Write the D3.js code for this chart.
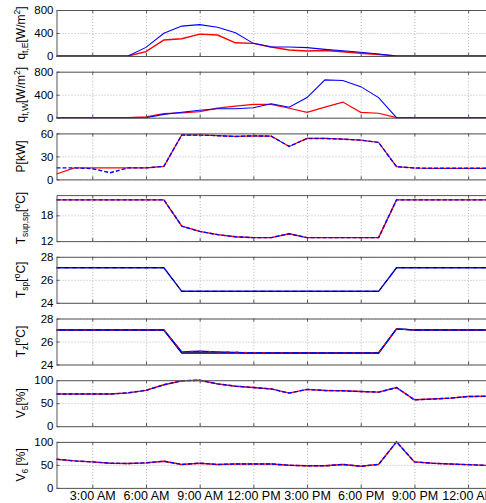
<!DOCTYPE html>
<html>
<head>
<meta charset="utf-8">
<script src="https://cdn.jsdelivr.net/npm/d3@7"></script>
<style>
  body { margin: 0; background: #fff; }
  svg { display: block; font-family: "Liberation Sans", Arial, sans-serif; }
  .grid line { stroke: #b4b4b4; stroke-dasharray: 1,2; }
  .grid path { display: none; }
  .frame path, .frame line { stroke: #555; }
</style>
</head>
<body>
<script>
// hour of day, 1 = 1:00 AM ... 25 = 1:00 AM next day
var hours = [1,2,3,4,5,6,7,8,9,10,11,12,13,14,15,16,17,18,19,20,21,22,23,24,25];
var xTickHours = [3,6,9,12,15,18,21,24];
var xTickLabels = ["3:00 AM","6:00 AM","9:00 AM","12:00 PM","3:00 PM","6:00 PM","9:00 PM","12:00 AM"];

var qE_red  = [0,0,0,0,0,75,278,300,380,365,230,220,157,105,87,95,75,47,25,0,0,0,0,0,0];
var qE_blue = [0,0,0,0,0,150,395,520,545,500,405,220,157,157,145,116,92,64,35,0,0,0,0,0,0];

var qW_red  = [0,0,0,0,0,15,70,85,107,165,200,231,231,165,94,183,272,94,77,0,0,0,0,0,0];
var qW_blue = [0,0,0,0,0,0,58,95,130,155,155,172,243,183,350,658,646,540,350,0,0,0,0,0,0];

var P_red  = [7,15,15,15,15,15,17,58,58,57,56,56.8,56.4,43,53.4,53.4,52.5,51.2,48.2,16.6,14.9,14.5,14.5,14.5,14.5];
var P_blue = [15,15,14,8.7,15,15,17,58,58,57,56,56.8,56.4,43,53.4,53.4,52.5,51.2,48.2,16.6,14.9,14.5,14.5,14.5,14.5];

var Tsup_red  = [21.6,21.6,21.6,21.6,21.6,21.6,21.6,15.5,14.25,13.5,13,12.8,12.8,13.7,12.8,12.8,12.8,12.8,12.8,21.6,21.6,21.6,21.6,21.6,21.6];
var Tsup_blue = [21.6,21.6,21.6,21.6,21.6,21.6,21.6,15.5,14.25,13.5,13,12.8,12.8,13.7,12.8,12.8,12.8,12.8,12.8,21.6,21.6,21.6,21.6,21.6,21.6];

var Tsp_blue  = [27.05,27.05,27.05,27.05,27.05,27.05,27.05,25,25,25,25,25,25,25,25,25,25,25,25,27.05,27.05,27.05,27.05,27.05,27.05];
var Tsp_black = [27.05,27.05,27.05,27.05,27.05,27.05,27.05,25,25,25,25,25,25,25,25,25,25,25,25,27.05,27.05,27.05,27.05,27.05,27.05];

var Tz_blue  = [27,27,27,27,27,27,27,25.1,25.15,25.1,25.05,25,25,25,25,25,25,25,25,27.1,27,27,27,27,27];
var Tz_red   = [27,27,27,27,27,27,27,25.12,25.15,25.1,25.08,25.02,25,25,25,25,25,25,25,27.1,27,27,27,27,27];
var Tz_black = [27,27,27,27,27,27,27,25,25,25,25,25,25,25,25,25,25,25,25,27.1,27,27,27,27,27];

var V5_red  = [70,70,70,70,72.5,78,90,98.6,100,92,87,84,81,72,80,77.6,77,75.4,74,84,57.4,59,61,64.5,65];
var V5_blue = [70,70,70,70,72.5,78,90,98.6,100,92,87,84,81,72,80,77.6,77,75.4,74,84,57.4,59,61,64.5,65];

var V6_red  = [62.4,58.7,56.5,53.7,53,54.5,58,51,53.7,51,52,52,52,49.3,48,48,51,47,51,100,56.5,53.7,52,50.5,49];
var V6_blue = [62.4,58.7,56.5,53.7,53,54.5,58,51,53.7,51,52,52,52,49.3,48,48,51,47,51,100,56.5,53.7,52,50.5,49];

var svgWidth = 486;
var svgHeight = 503;
var left = 56.5, right = 486;
var panelHeight = 46;

var svg = d3.select("body").append("svg")
  .attr("width", svgWidth)
  .attr("height", svgHeight);

var x = d3.scaleLinear().domain([1, 25]).range([left, right]);

// one entry per subplot
var panels = [
  { domain: [0, 800], ticks: [0, 400, 800],
    label: [["q"], ["t,E", "sub"], ["[W/m"], ["2", "sup"], ["]"]],
    series: [{ v: qE_red, c: "#ff0000", w: 1.4 }, { v: qE_blue, c: "#0000ff", w: 1.1 }] },
  { domain: [0, 800], ticks: [0, 400, 800],
    label: [["q"], ["t,W", "sub"], ["[W/m"], ["2", "sup"], ["]"]],
    series: [{ v: qW_red, c: "#ff0000", w: 1.2 }, { v: qW_blue, c: "#0000ff", w: 1.1 }] },
  { domain: [0, 60], ticks: [0, 30, 60],
    label: [["P[kW]"]],
    series: [{ v: P_red, c: "#ff0000", w: 1.2 }, { v: P_blue, c: "#0000ff", w: 1.4, dash: "4,2" }] },
  { domain: [12, 22.7], ticks: [12, 18],
    label: [["T"], ["sup,sp", "sub"], ["["], ["o", "sup"], ["C]"]],
    series: [{ v: Tsup_red, c: "#ff0000", w: 1.4 }, { v: Tsup_blue, c: "#0000ff", w: 1.4, dash: "4,2" }] },
  { domain: [24, 28], ticks: [24, 26, 28],
    label: [["T"], ["sp", "sub"], ["["], ["o", "sup"], ["C]"]],
    series: [{ v: Tsp_blue, c: "#0000ff", w: 1.4 }, { v: Tsp_black, c: "#000000", w: 1, dash: "4,4" }] },
  { domain: [24, 28], ticks: [24, 26, 28],
    label: [["T"], ["z", "sub"], ["["], ["o", "sup"], ["C]"]],
    series: [{ v: Tz_black, c: "#000000", w: 1.4 }, { v: Tz_blue, c: "#0000ff", w: 1.4 },
             { v: Tz_red, c: "#ff0000", w: 1.2, dash: "3,6" }] },
  { domain: [0, 100], ticks: [0, 50, 100],
    label: [["V"], ["5", "sub"], ["[%]"]],
    series: [{ v: V5_red, c: "#ff0000", w: 1.4 }, { v: V5_blue, c: "#0000ff", w: 1.4, dash: "4,2" }] },
  { domain: [0, 100], ticks: [0, 50, 100],
    label: [["V"], ["6", "sub"], [" [%]"]],
    series: [{ v: V6_red, c: "#ff0000", w: 1.4 }, { v: V6_blue, c: "#0000ff", w: 1.4, dash: "4,2" }] }
];

panels.forEach(function(p, i) {
  var top = 10 + i * 61.7;
  var bottom = top + panelHeight;
  var y = d3.scaleLinear().domain(p.domain).range([bottom, top]);
  var g = svg.append("g");

  // grid
  g.append("g").attr("class", "grid")
    .attr("transform", "translate(0," + bottom + ")")
    .call(d3.axisBottom(x).tickValues(xTickHours).tickSize(-panelHeight).tickFormat(""));
  g.append("g").attr("class", "grid")
    .attr("transform", "translate(" + left + ",0)")
    .call(d3.axisLeft(y).tickValues(p.ticks).tickSize(-(right - left)).tickFormat(""));

  // lines
  p.series.forEach(function(s) {
    var line = d3.line()
      .x(function(d, k) { return x(hours[k]); })
      .y(function(d) { return y(d); });
    g.append("path")
      .datum(s.v)
      .attr("fill", "none")
      .attr("stroke", s.c)
      .attr("stroke-width", s.w)
      .attr("stroke-dasharray", s.dash || null)
      .attr("d", line);
  });

  // frame
  g.append("g").attr("class", "frame")
    .attr("transform", "translate(0," + top + ")")
    .call(d3.axisTop(x).tickValues(xTickHours).tickSizeInner(-3).tickSizeOuter(0).tickFormat(""));
  var bottomAxis = d3.axisBottom(x).tickValues(xTickHours).tickSizeInner(-3).tickSizeOuter(0).tickPadding(3);
  if (i == panels.length - 1) {
    bottomAxis.tickFormat(function(d, k) { return xTickLabels[k]; });
  } else {
    bottomAxis.tickFormat("");
  }
  var bAx = g.append("g").attr("class", "frame")
    .attr("transform", "translate(0," + bottom + ")")
    .call(bottomAxis);
  bAx.selectAll("text").style("font-size", "12.5px").style("font-family", "Liberation Sans, Arial").attr("fill", "#000");

  var lAx = g.append("g").attr("class", "frame")
    .attr("transform", "translate(" + left + ",0)")
    .call(d3.axisLeft(y).tickValues(p.ticks).tickSizeInner(-3).tickSizeOuter(0).tickPadding(3).tickFormat(d3.format("d")));
  lAx.selectAll("text").style("font-size", "11.5px").style("font-family", "Liberation Sans, Arial").attr("fill", "#000");

  // y label
  var lab = svg.append("text")
    .attr("transform", "translate(25," + (top + panelHeight / 2) + ") rotate(-90)")
    .attr("text-anchor", "middle")
    .style("font-size", "12px");
  p.label.forEach(function(part) {
    var t = lab.append("tspan").text(part[0]);
    if (part[1] == "sub") {
      t.attr("baseline-shift", "-3").style("font-size", "8.5px");
    } else if (part[1] == "sup") {
      t.attr("baseline-shift", "5").style("font-size", "8.5px");
    }
  });
});
</script>
</body>
</html>
